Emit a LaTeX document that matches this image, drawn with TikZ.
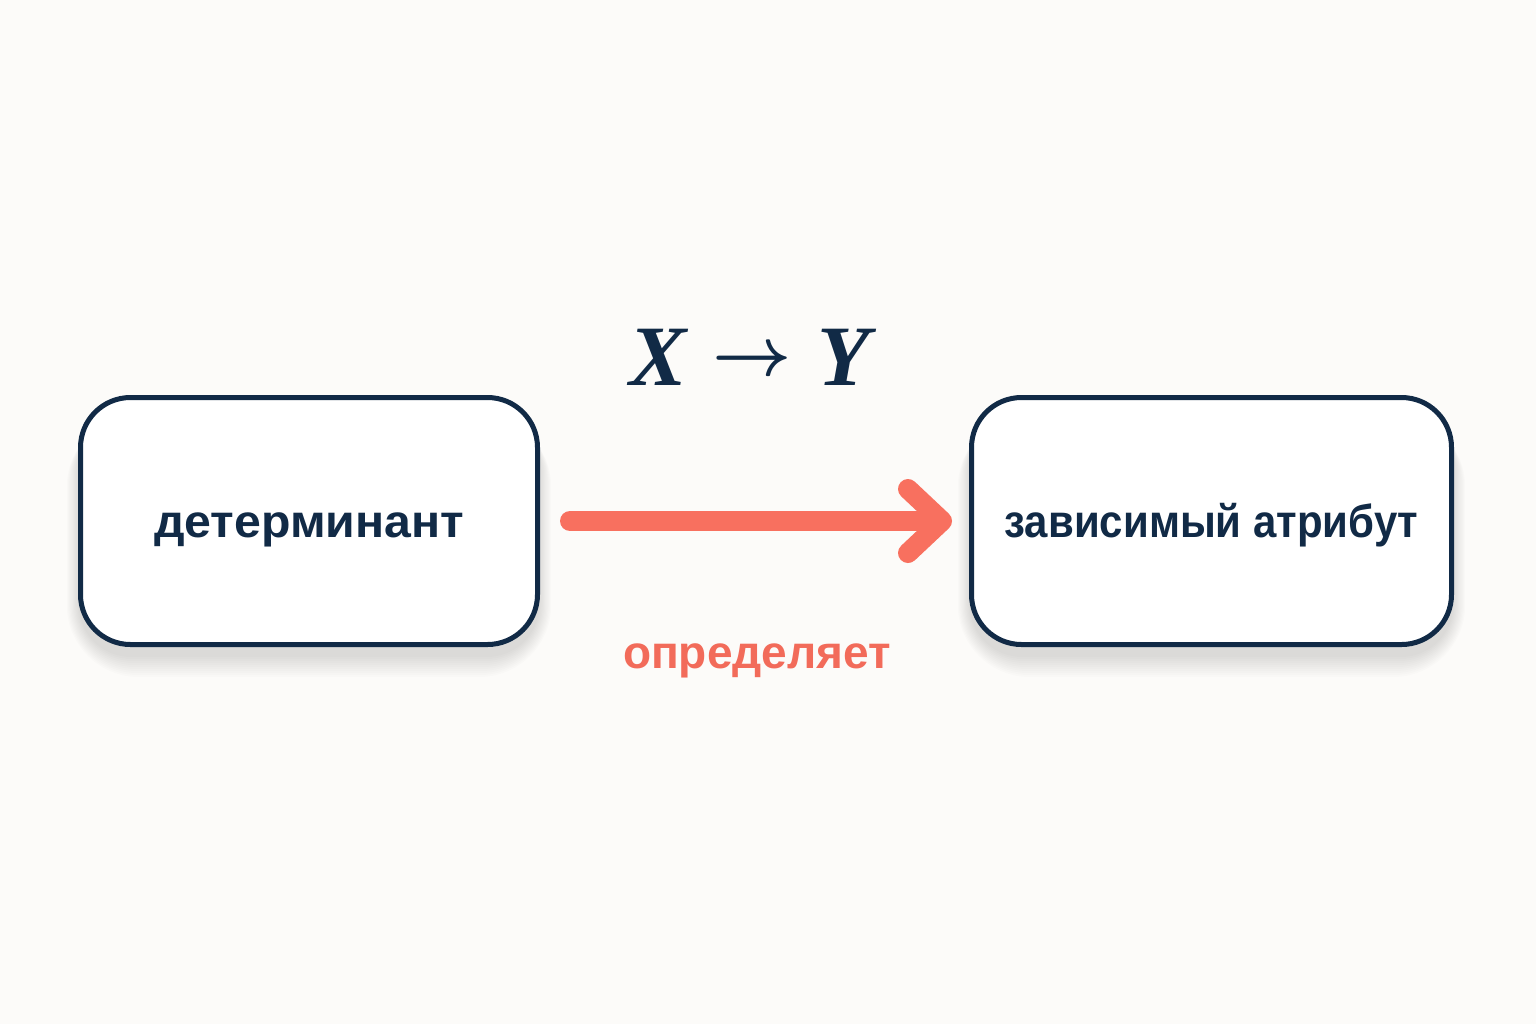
\documentclass[tikz,border=0pt]{standalone}
\usepackage{fontspec}
\setmainfont{Liberation Sans}
\newfontfamily\serifbi{Liberation Serif}
\usetikzlibrary{calc}
\definecolor{bgc}{HTML}{FCFBF9}
\definecolor{navy}{HTML}{112A46}
\definecolor{salmon}{HTML}{F8705F}
\definecolor{salmontext}{HTML}{F26B5A}
\pgfdeclarelayer{back}
\pgfdeclarelayer{shade}
\pgfsetlayers{back,shade,main}
\tikzset{
  box/.style={draw=navy, line width=2.5pt, fill=white, rounded corners=25pt,
    minimum height=123.5pt, inner sep=0pt, text height=16pt, text depth=0pt,
    font=\fontsize{23}{28}\selectfont\bfseries, text=navy},
  shadowpiece/.style={fill=black, opacity=0.012},
  flow/.style={draw=salmon, line width=10pt, line cap=round, line join=round},
  lbl/.style={font=\fontsize{23}{28}\selectfont\bfseries, text=salmontext, inner sep=0pt, anchor=base},
  formula/.style={text=navy, inner sep=0pt, anchor=base}
}
\begin{document}
\begin{tikzpicture}[x=0.5pt,y=-0.5pt]
\begin{pgfonlayer}{back}
\fill[bgc] (0,0) rectangle (1536,1024);
\end{pgfonlayer}
\useasboundingbox (0,0) rectangle (1536,1024);
\node[box, minimum width=228.5pt] (L) at (309,521) {\scalebox{1.048}[1]{детерминант}};
\node[box, minimum width=240pt] (R) at (1211.5,521) {\scalebox{0.912}[1]{зависимый атрибут}};
\begin{pgfonlayer}{shade}
\foreach \n in {L,R}{
  \foreach \e in {2,4,...,22}{
    \pgfmathsetmacro\rr{25+0.5*\e}
    \pgfmathsetmacro\sx{0.6*\e-2}
    \fill[shadowpiece, rounded corners=\rr pt]
      ($(\n.south west)+(-\sx,8+\e)$) rectangle ($(\n.north east)+(\sx,20)$);
  }
}
\end{pgfonlayer}
\draw[flow] ($(L.east)+(30,0)$) -- ($(R.west)+(-29,0)$);
\coordinate (tip) at ($(R.west)+(-27,0)$);
\coordinate (armA) at ($(tip)+(-34,-32)$);
\coordinate (armB) at ($(tip)+(-34,32)$);
\draw[flow] (armA) -- (tip) -- (armB);
\node[lbl] (lab) at (757,668) {определяет};
\node[formula] (fd) at (750,385) {\fontsize{43}{50}\selectfont\serifbi\bfseries\itshape X\hspace{12.5pt}\raisebox{5pt}{\scalebox{1.385}{\boldmath$\rightarrow$}}\hspace{13pt}Y};
\end{tikzpicture}
\end{document}
